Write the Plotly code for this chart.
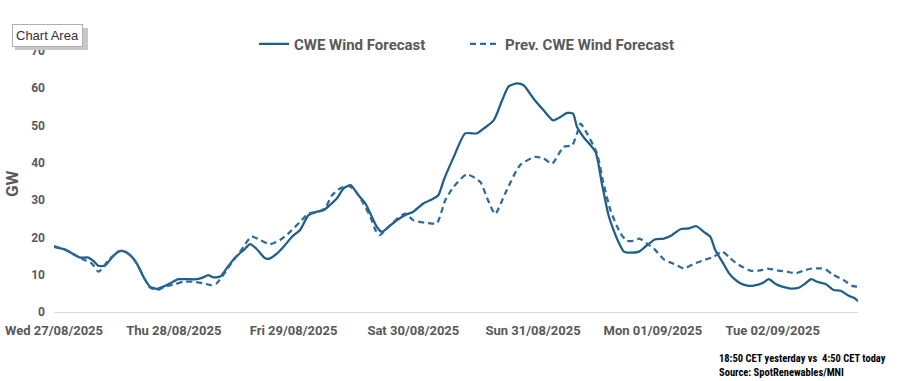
import pandas as pd
import plotly.graph_objects as go

start = pd.Timestamp("2025-08-27 00:00")

# Current forecast: hours from start, GW
cur_hours = [0, 1.2, 2.5, 3.9, 5.2, 6.9, 7.9, 8.9, 10.2, 11.6, 12.9, 13.9, 15.2, 16.6, 17.9, 19.2, 20.6, 21.9, 23.3,
             24.9, 26.6, 28.6, 29.9, 30.9, 31.9, 33.3, 34.6, 36.3, 38.0, 39.3, 40.6, 42.3, 43.3, 44.7, 46.0, 47.7,
             49.3, 51.0, 52.7, 54.0, 55.3, 56.7, 58.0, 59.5, 60.7, 62.4, 63.7, 64.7, 65.7, 67.0, 68.7, 70.4, 72.0,
             74.0, 75.7, 77.0, 78.1, 80.1, 82.4, 84.7, 86.1, 88.1, 89.8, 91.1, 92.8, 94.1, 96.1, 98.1, 100.0, 101.5,
             102.8, 104.0, 104.8, 106.1, 108.5, 109.8, 111.1, 112.1, 113.1, 114.2, 115.5, 117.2, 118.8, 120.5, 122.2,
             123.8, 125.5, 127.2, 128.7, 130.2, 131.5, 132.5, 133.9, 135.2, 136.2, 137.5, 138.9, 140.2, 141.9, 143.2,
             144.6, 145.9, 147.6, 149.2, 150.6, 151.7, 152.9, 154.6, 156.2, 157.6, 159.3, 160.3, 161.1]
cur_vals = [17.5, 17.1, 16.6, 15.5, 14.6, 14.6, 13.7, 12.4, 12.4, 14.6, 16.2, 16.3, 15.3, 13.0, 9.5, 6.8, 6.2, 6.8, 7.7,
            8.8, 8.8, 8.8, 9.3, 9.9, 9.3, 9.5, 11.7, 14.6, 16.6, 18.2, 16.9, 14.4, 14.4, 15.7, 17.5, 20.2,
            22.0, 26.0, 26.9, 27.3, 28.7, 30.5, 33.1, 34.0, 31.8, 29.1, 25.5, 22.8, 21.5, 22.8, 24.6, 26.0, 26.9,
            29.1, 30.2, 31.3, 35.4, 41.6, 47.9, 47.9, 49.2, 51.4, 56.8, 60.5, 61.3, 60.8, 57.2, 54.1, 51.4, 52.3,
            53.4, 53.2, 49.6, 46.9, 42.9, 34.3, 26.0, 22.0, 18.8, 16.2, 15.9, 16.2, 17.9, 19.5, 19.7,
            20.6, 22.2, 22.4, 23.0, 21.5, 20.2, 16.6, 13.5, 10.5, 9.0, 7.7, 7.1, 7.1, 7.7, 8.8,
            7.5, 6.8, 6.3, 6.5, 7.7, 8.8, 8.1, 7.5, 5.9, 5.7, 4.3, 3.8, 2.9]

# Previous forecast: hours from start, GW
prev_hours = [0, 1.9, 3.9, 5.9, 7.6, 8.9, 9.9, 10.9, 12.9, 13.9, 15.2, 16.6, 17.9, 19.2, 20.6, 22.3, 24.3, 25.9, 27.9,
              29.9, 31.6, 32.6, 33.9, 35.6, 37.3, 39.6, 41.3, 43.3, 45.3, 47.3, 49.3, 51.0, 53.0, 54.3, 55.7, 57.3,
              59.0, 60.3, 62.0, 63.4, 64.4, 65.2, 66.7, 68.4, 70.4, 72.0, 74.7, 76.7, 78.4, 80.1, 82.7, 85.4, 86.8,
              88.4, 90.4, 93.4, 96.4, 98.1, 99.8, 102.1, 103.8, 104.8, 105.5, 106.8, 108.8, 110.1, 111.5, 113.5,
              114.8, 116.1, 117.3, 118.8, 120.5, 122.2, 124.2, 126.2, 128.2, 130.2, 132.2, 133.9, 135.2, 136.5,
              138.2, 139.5, 141.2, 143.2, 145.2, 146.9, 148.6, 150.2, 151.6, 153.6, 154.6, 156.2, 158.2, 159.9, 160.9]
prev_vals = [17.7, 16.9, 15.5, 14.1, 13.0, 10.8, 12.1, 13.9, 16.2, 16.3, 15.3, 13.0, 9.5, 6.6, 5.9, 6.8, 7.5, 8.1, 8.1,
             7.7, 7.2, 7.7, 9.9, 13.2, 16.2, 20.2, 19.3, 18.2, 19.3, 21.5, 24.2, 26.4, 26.9, 27.8, 31.3, 33.1,
             33.8, 32.7, 29.1, 25.5, 22.0, 20.6, 22.4, 24.6, 26.4, 24.6, 23.9, 23.8, 30.0, 33.6, 36.9, 34.9, 30.5,
             26.3, 31.8, 39.4, 41.6, 41.2, 39.8, 44.3, 44.7, 47.9, 50.5, 47.9, 42.5, 34.5, 27.3, 21.1,
             19.1, 19.1, 19.7, 18.4, 16.6, 14.1, 12.9, 11.7, 12.9, 13.9, 14.8, 16.2, 14.8, 13.3,
             11.9, 11.1, 11.1, 11.6, 11.1, 10.8, 10.4, 11.1, 11.6, 11.7, 11.4, 9.9, 8.6, 7.0, 6.8]

tick_labels = ["Wed 27/08/2025", "Thu 28/08/2025", "Fri 29/08/2025", "Sat 30/08/2025",
               "Sun 31/08/2025", "Mon 01/09/2025", "Tue 02/09/2025"]
y_ticks = [0, 10, 20, 30, 40, 50, 60, 70]

cur_x = [start + pd.Timedelta(hours=h) for h in cur_hours]
prev_x = [start + pd.Timedelta(hours=h) for h in prev_hours]
tick_x = [start + pd.Timedelta(days=i) for i in range(len(tick_labels))]

W, H = 908, 381
PL, PR, PT, PB = 54, 858, 51, 312


def px(xp):
    return (xp - PL) / (PR - PL)


def py(yp):
    return (PB - yp) / (PB - PT)


grey = "#595959"
fig = go.Figure()
fig.add_trace(go.Scatter(x=cur_x, y=cur_vals, mode="lines", name="CWE Wind Forecast",
                         line=dict(color="#1B5F8A", width=2.25, shape="spline", smoothing=0.6)))
fig.add_trace(go.Scatter(x=prev_x, y=prev_vals, mode="lines", name="Prev. CWE Wind Forecast",
                         line=dict(color="#2C6AA0", width=2.25, dash="6px,4px", shape="spline", smoothing=0.6)))

fig.update_layout(
    width=W, height=H,
    margin=dict(l=PL, r=W - PR, t=PT, b=H - PB, autoexpand=False),
    paper_bgcolor="white", plot_bgcolor="white",
    font=dict(family="Roboto, Liberation Sans, sans-serif", color=grey),
    showlegend=True,
    legend=dict(orientation="h", x=px(254), xanchor="left", y=py(44), yanchor="middle",
                font=dict(size=15, color=grey, weight="bold"), itemwidth=30,
                traceorder="normal", entrywidth=166, entrywidthmode="pixels"),
    xaxis=dict(type="date", range=[start, cur_x[-1]], tickmode="array", tickvals=tick_x, ticktext=tick_labels,
               showgrid=False, showline=False, zeroline=False, ticks="", ticklabelstandoff=9,
               tickfont=dict(size=13, color=grey, weight="bold")),
    yaxis=dict(range=[0, 70], tickmode="array", tickvals=y_ticks, showgrid=False, showline=False,
               zeroline=True, zerolinecolor="#D9D9D9", zerolinewidth=1, ticks="", ticklabelstandoff=8,
               tickfont=dict(size=12, color=grey, weight="bold")),
    shapes=[
        dict(type="rect", xref="paper", yref="paper", x0=px(15), x1=px(88), y0=py(50), y1=py(28),
             fillcolor="#C8C8C8", line=dict(width=0), layer="above"),
    ],
    annotations=[
        dict(text="GW", xref="paper", yref="paper", x=px(12), y=py(184), xanchor="center", yanchor="middle",
             textangle=-90, showarrow=False, font=dict(size=17, color=grey, weight="bold")),
        dict(text="18:50 CET yesterday vs  4:50 CET today<br>Source: SpotRenewables/MNI",
             xref="paper", yref="paper", x=px(717), y=py(350), xanchor="left",
             yanchor="top", align="left", showarrow=False,
             font=dict(family="Liberation Sans Narrow, Roboto Condensed, Liberation Sans, sans-serif",
                       size=10.5, color="black", weight="bold")),
        dict(text="Chart Area", xref="paper", yref="paper", x=px(12), y=py(36),
             xanchor="left", yanchor="middle", showarrow=False, bgcolor="white", bordercolor="#B0B0B0",
             borderwidth=1, borderpad=3,
             font=dict(family="Liberation Sans, sans-serif", size=13, color="#333333")),
    ],
)

fig.write_html("out.html", config={"displayModeBar": False},
               post_script="document.body.style.margin='0';")
